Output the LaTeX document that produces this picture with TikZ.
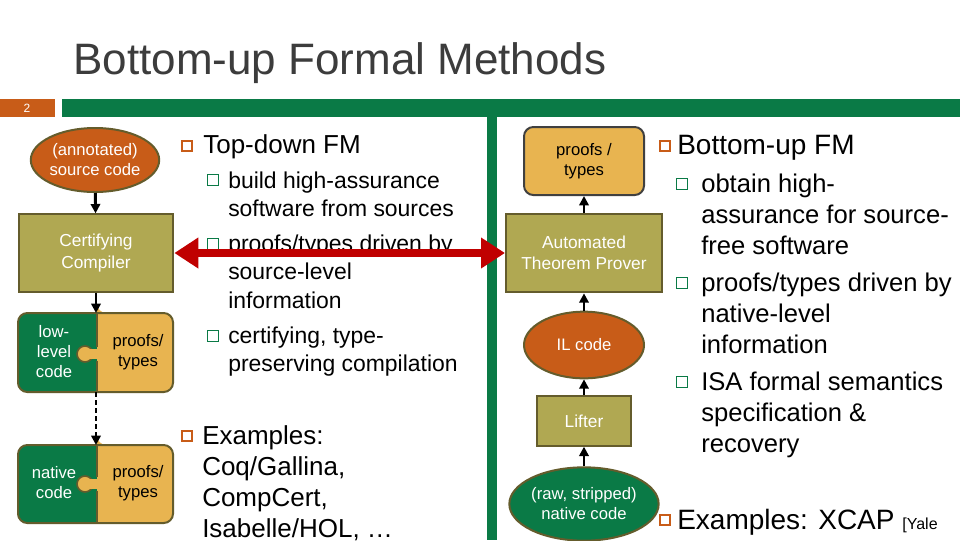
\documentclass[tikz,border=0pt]{standalone}
\usepackage{fontspec}
\setmainfont{Liberation Sans}
\usetikzlibrary{arrows.meta,shapes.geometric}
\definecolor{orng}{RGB}{200,92,24}
\definecolor{olive}{RGB}{176,168,82}
\definecolor{olived}{RGB}{100,92,44}
\definecolor{grn}{RGB}{10,122,70}
\definecolor{tan}{RGB}{232,180,80}
\definecolor{redA}{RGB}{192,0,0}
\definecolor{ttl}{RGB}{60,60,60}
\begin{document}
\begin{tikzpicture}[x=0.75pt,y=-0.75pt,
  lt/.style={anchor=base west,inner sep=0pt,font=\fontsize{17.2}{18}\selectfont},
  lb/.style={anchor=base west,inner sep=0pt,font=\fontsize{19.5}{20}\selectfont},
  rt/.style={anchor=base west,inner sep=0pt,font=\fontsize{19.2}{20}\selectfont},
  rb/.style={anchor=base west,inner sep=0pt,font=\fontsize{21}{22}\selectfont},
  ob/.style={draw=orng,line width=1.3pt,minimum size=7pt,inner sep=0pt},
  gb/.style={draw=grn,line width=0.6pt,minimum size=8pt,inner sep=0pt},
  box/.style={draw=olived,line width=1.5pt,fill=olive,text=white,align=center,font=\fontsize{13}{16}\selectfont},
  ell/.style={ellipse,draw=olived,line width=1.5pt,text=white,align=center,font=\fontsize{12.5}{15}\selectfont,inner sep=0pt},
  arr/.style={-{Triangle[length=7pt,width=7pt]},line width=2.2pt},
  pt/.style={text=black,font=\fontsize{12.5}{15}\selectfont,align=center,inner sep=0pt},
  knob/.style={fill=tan,draw=olived,line width=1.2pt}]
\useasboundingbox (0,0) rectangle (960,540);
\fill[white] (0,0) rectangle (960,540);
% title and bars
\node[anchor=base west,inner sep=0pt,text=ttl,font=\fontsize{33}{36}\selectfont] (title) at (73,74) {Bottom-up Formal Methods};
\fill[orng] (0,99) rectangle (55,117);
\node[text=white,font=\fontsize{9}{10}\selectfont] (num) at (27,108) {2};
\fill[grn] (62,99) rectangle (960,117);
\fill[grn] (487,117) rectangle (497,540);
% left diagram
\node[ell,fill=orng,minimum width=90pt,minimum height=48pt] (src) at (95,160) {(annotated)\\source code};
\node[box,minimum width=116pt,minimum height=58pt] (cc) at (96,253) {Certifying\\Compiler};
% puzzle 1
\fill[grn,rounded corners=7pt] (18,313) rectangle (173,392);
\fill[tan,rounded corners=7pt] (97,313) -| (173,392) -| cycle;
\fill[tan] (97,313) rectangle (115,392);
\draw[knob] (85,354) circle (8);
\fill[tan] (88,349) rectangle (98,359);
\draw[olived,line width=1.5pt] (97,313)--(97,347);
\draw[olived,line width=1.5pt] (97,361)--(97,392);
\draw[olived,line width=1.5pt,rounded corners=7pt] (18,313) rectangle (173,392);
\node[text=white,font=\fontsize{12.5}{15}\selectfont,align=center,inner sep=0pt] (ll) at (54,352) {low-\\level\\code};
\node[pt] (pf1) at (138,352) {proofs/\\types};
\coordinate (p1t) at (96,313);
\coordinate (p1b) at (96,392);
% puzzle 2
\fill[grn,rounded corners=7pt] (18,445) rectangle (173,523);
\fill[tan,rounded corners=7pt] (97,445) -| (173,523) -| cycle;
\fill[tan] (97,445) rectangle (115,523);
\draw[knob] (85,484) circle (8);
\fill[tan] (88,479) rectangle (98,489);
\draw[olived,line width=1.5pt] (97,445)--(97,477);
\draw[olived,line width=1.5pt] (97,491)--(97,523);
\draw[olived,line width=1.5pt,rounded corners=7pt] (18,445) rectangle (173,523);
\node[text=white,font=\fontsize{12.5}{15}\selectfont,align=center,inner sep=0pt] (nc) at (54,483) {native\\code};
\node[pt] (pf2) at (138,483) {proofs/\\types};
\coordinate (p2t) at (96,445);
\draw[arr] (src) -- (cc);
\draw[arr] (cc) -- (p1t);
\draw[line width=2.2pt,dash pattern=on 4pt off 2pt] (p1b) -- ++(0,40) coordinate (dmid);
\draw[arr] (dmid) -- (p2t);
% right diagram
\node[draw=black!75,line width=1.5pt,fill=tan,rounded corners=7pt,minimum width=90pt,minimum height=51pt,align=center,font=\fontsize{12.5}{15}\selectfont] (pt2) at (584,161) {proofs /\\types};
\node[box,minimum width=117pt,minimum height=59pt] (atp) at (584,253) {Automated\\Theorem Prover};
\node[ell,fill=orng,minimum width=90pt,minimum height=50pt] (il) at (584,345) {IL code};
\node[box,minimum width=71pt,minimum height=37pt] (lift) at (584,421) {Lifter};
\node[ell,fill=grn,minimum width=90pt,minimum height=55pt] (raw) at (584,504) {(raw, stripped)\\native code};
\draw[arr] (atp) -- (pt2);
\draw[arr] (il) -- (atp);
\draw[arr] (lift) -- (il);
\draw[arr] (raw) -- (lift);
% left text
\node[ob] (b1) at (187,146) {};
\node[anchor=base west,inner sep=0pt,font=\fontsize{19.5}{20}\selectfont] (t1) at (203,153) {Top-down FM};
\node[gb] (s1) at (213,180) {};
\node[lt] (l1) at (228,188) {build high-assurance};
\node[lt] (l2) at (228,216) {software from sources};
\node[gb] (s2) at (213,244) {};
\node[lt] (l3) at (228,251) {proofs/types driven by};
\node[lt] (l4) at (228,279) {source-level};
\node[lt] (l5) at (228,308) {information};
\node[gb] (s3) at (213,336) {};
\node[lt] (l6) at (228,343) {certifying, type-};
\node[lt] (l7) at (228,371) {preserving compilation};
\node[ob] (b2) at (187,436) {};
\node[lb] (e1) at (202,444) {Examples:};
\node[lb] (e2) at (202,475) {Coq/Gallina,};
\node[lb] (e3) at (202,506) {CompCert,};
\node[lb] (e4) at (202,537) {Isabelle/HOL, \ldots};
% right text
\node[ob] (b3) at (665,146) {};
\node[anchor=base west,inner sep=0pt,font=\fontsize{21}{22}\selectfont] (t2) at (677,154) {Bottom-up FM};
\node[gb] (s4) at (682,184) {};
\node[rt] (r1) at (701,192) {obtain high-};
\node[rt] (r2) at (701,223) {assurance for source-};
\node[rt] (r3) at (701,254) {free software};
\node[gb] (s5) at (682,283) {};
\node[rt] (r4) at (701,291) {proofs/types driven by};
\node[rt] (r5) at (701,322) {native-level};
\node[rt] (r6) at (701,353) {information};
\node[gb] (s6) at (682,382) {};
\node[rt] (r7) at (701,390) {ISA formal semantics};
\node[rt] (r8) at (701,421) {specification \&};
\node[rt] (r9) at (701,452) {recovery};
\node[ob] (b4) at (665,520) {};
\node[rb] (r10) at (677,529) {Examples: XCAP \fontsize{12}{14}\selectfont[Yale};
% red arrow
\draw[redA,line width=6pt,{Triangle[length=18pt,width=22pt]}-{Triangle[length=18pt,width=22pt]}] (cc.east) -- (atp.west);
\end{tikzpicture}
\end{document}
